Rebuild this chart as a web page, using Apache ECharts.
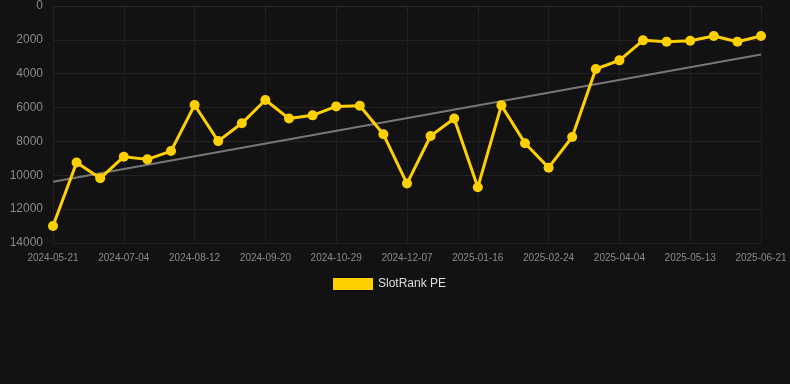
<!DOCTYPE html>
<html>
<head>
<meta charset="utf-8">
<script src="https://cdn.jsdelivr.net/npm/echarts@6/dist/echarts.min.js"></script>
<style>
html,body{margin:0;padding:0;background:#121212;}
#c{width:790px;height:384px;}
</style>
</head>
<body>
<div id="c"></div>
<script>
var dates = ["2024-05-21","2024-06-04","2024-06-19","2024-07-04","2024-07-17","2024-07-30","2024-08-12","2024-08-25","2024-09-07","2024-09-20","2024-10-03","2024-10-16","2024-10-29","2024-11-11","2024-11-24","2024-12-07","2024-12-20","2025-01-03","2025-01-16","2025-01-29","2025-02-11","2025-02-24","2025-03-09","2025-03-22","2025-04-04","2025-04-17","2025-04-30","2025-05-13","2025-05-26","2025-06-08","2025-06-21"];
var rankPE = [13000,9250,10180,8900,9060,8570,5850,7980,6930,5550,6650,6460,5930,5890,7580,10490,7680,6650,10710,5870,8110,9550,7740,3720,3210,2030,2110,2050,1770,2110,1770];
var trendEnds = [10380,2870];
var seriesName = "SlotRank PE";
var yTicks = [0,2000,4000,6000,8000,10000,12000,14000];

var trend = dates.map(function(d,i){
  if(i===0) return trendEnds[0];
  if(i===dates.length-1) return trendEnds[1];
  return null;
});

var chart = echarts.init(document.getElementById('c'));
chart.setOption({
  backgroundColor:'#121212',
  animation:false,
  grid:{left:53,right:29,top:6,bottom:141},
  legend:{
    data:[seriesName],
    top:273,
    left:328,
    itemWidth:40,itemHeight:12,
    icon:'rect',
    textStyle:{color:'#dddddd',fontSize:12,fontFamily:'Liberation Sans, Arial, sans-serif'},
    itemGap:10
  },
  xAxis:{
    type:'category',
    data:dates,
    boundaryGap:false,
    axisLine:{show:true,lineStyle:{color:'#2a2a2a'}},
    axisTick:{show:true,interval:2,lineStyle:{color:'#2a2a2a'}},
    axisLabel:{interval:2,color:'#8a8a8a',fontSize:10,margin:10},
    splitLine:{show:true,interval:2,lineStyle:{color:'#1e1e1e'}}
  },
  yAxis:{
    type:'value',
    inverse:true,
    min:yTicks[0],max:yTicks[yTicks.length-1],interval:2000,
    axisLine:{show:false},
    axisTick:{show:false},
    axisLabel:{color:'#8a8a8a',fontSize:12,margin:10,formatter:function(v){return String(v);}},
    splitLine:{lineStyle:{color:'#222222'}}
  },
  series:[
    {
      name:'trend',
      type:'line',
      data:trend,
      connectNulls:true,
      symbol:'none',
      lineStyle:{color:'#777777',width:2},
      z:1,
      silent:true
    },
    {
      name:seriesName,
      type:'line',
      data:rankPE,
      symbol:'circle',
      symbolSize:10,
      itemStyle:{color:'#FFD000'},
      lineStyle:{color:'#FFD000',width:3},
      z:3
    }
  ]
});
</script>
</body>
</html>
